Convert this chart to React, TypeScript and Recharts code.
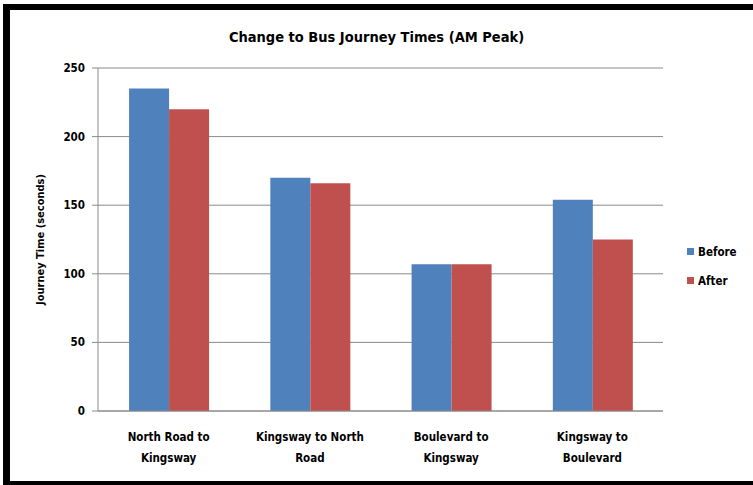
import React from "react";
import { BarChart, Bar, XAxis, YAxis, CartesianGrid, Label } from "recharts";

const categories = ["North Road to\nKingsway", "Kingsway to  North\nRoad", "Boulevard to\nKingsway", "Kingsway to\nBoulevard"];
const before = [235, 170, 107, 154];
const after = [220, 166, 107, 125];
const yTicks = [0, 50, 100, 150, 200, 250];
const boundaryTicks = [0, 1, 2, 3, 4];
const series = [
  { key: "Before", color: "#4f81bd" },
  { key: "After", color: "#c0504d" },
];

const data = categories.map((name, i) => ({ name, Before: before[i], After: after[i] }));

const FONT = "'Liberation Sans Narrow', 'DejaVu Sans Condensed', 'Liberation Sans', sans-serif";
const AXIS = "#8a8a8a";

function CategoryTick(props: any) {
  const { x, y, payload } = props;
  const lines = String(payload.value).split("\n");
  return (
    <text x={x} y={y} textAnchor="middle" fontFamily={FONT} fontWeight="bold" fontSize={11.5} fill="#000">
      {lines.map((l, i) => (
        <tspan key={i} x={x} dy={i === 0 ? 22 : 21}>{l}</tspan>
      ))}
    </text>
  );
}

export default function App() {
  return (
    <div style={{ position: "absolute", left: 0, top: 0, width: 753, height: 485, background: "#fff", overflow: "hidden" }}>
      <div style={{ position: "absolute", left: 3, top: 4, width: 743, height: 471, borderTop: "6px solid #000", borderLeft: "7px solid #000", borderBottom: "6px solid #000" }} />
      <div style={{ position: "absolute", left: 0, top: 29, width: 753, textAlign: "center", fontFamily: FONT, fontWeight: "bold", fontSize: 14.5, color: "#000" }}>
        Change to Bus Journey Times (AM Peak)
      </div>
      <div style={{ position: "absolute", left: 0, top: 0 }}>
        <BarChart width={753} height={485} data={data} margin={{ top: 68, right: 90, bottom: 14, left: 0 }} barCategoryGap="22%" barGap={0}>
          <CartesianGrid vertical={false} stroke={AXIS} strokeWidth={1} />
          <XAxis xAxisId="b" type="number" domain={[0, 4]} ticks={boundaryTicks} tick={false} axisLine={false} tickLine={{ stroke: AXIS }} tickSize={6} height={0} />
          <XAxis dataKey="name" interval={0} tick={<CategoryTick />} tickLine={false} axisLine={{ stroke: AXIS }} height={60} />
          <YAxis domain={[0, 250]} ticks={yTicks} width={98} tickSize={6} tickMargin={7} axisLine={{ stroke: AXIS }} tickLine={{ stroke: AXIS }} tick={{ fontFamily: FONT, fontWeight: "bold", fontSize: 11.5, fill: "#000" }}>
            <Label value="Journey Time (seconds)" angle={-90} position="center" dx={-9} style={{ fontFamily: FONT, fontWeight: "bold", fontSize: 11, fill: "#000" }} />
          </YAxis>
          {series.map((s) => (
            <Bar key={s.key} dataKey={s.key} fill={s.color} isAnimationActive={false} />
          ))}
        </BarChart>
      </div>
      <div style={{ position: "absolute", left: 687, top: 237, fontFamily: FONT, fontWeight: "bold", fontSize: 11.5, color: "#000" }}>
        {series.map((s) => (
          <div key={s.key} style={{ display: "flex", alignItems: "center", height: 29 }}>
            <span style={{ width: 7, height: 7, background: s.color, marginRight: 4, display: "inline-block" }} />
            <span>{s.key}</span>
          </div>
        ))}
      </div>
    </div>
  );
}
